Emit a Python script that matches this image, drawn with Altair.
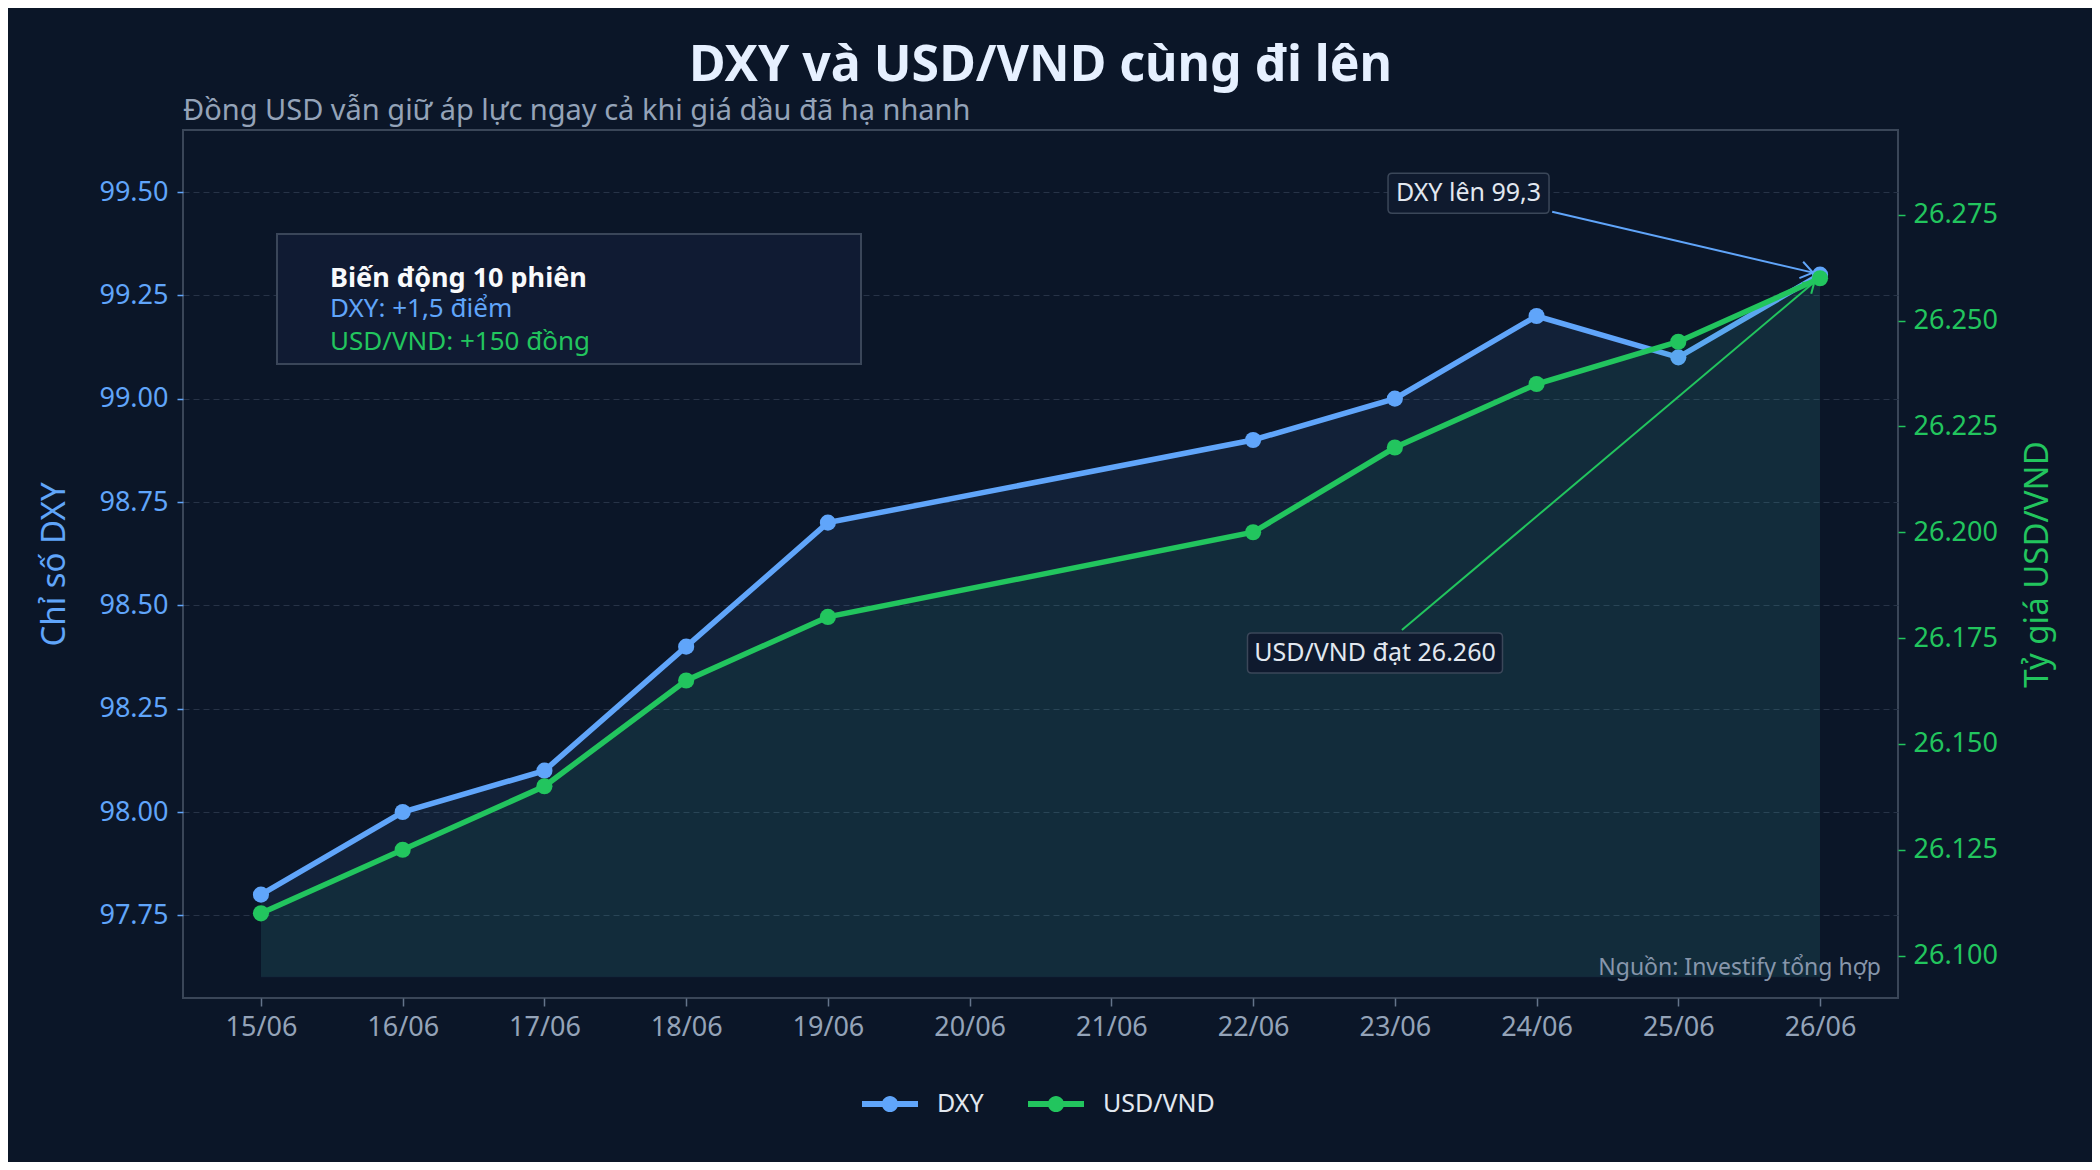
import json

import pandas as pd
import altair as alt

# Số liệu (10 phiên, không có 20/06 và 21/06)
ngay = ["15/06", "16/06", "17/06", "18/06", "19/06", "22/06", "23/06", "24/06", "25/06", "26/06"]
dxy = [97.80, 98.00, 98.10, 98.40, 98.70, 98.90, 99.00, 99.20, 99.10, 99.30]
usd_vnd = [26110, 26125, 26140, 26165, 26180, 26200, 26220, 26235, 26245, 26260]

nhan_truc_x = ["15/06", "16/06", "17/06", "18/06", "19/06", "20/06",
               "21/06", "22/06", "23/06", "24/06", "25/06", "26/06"]
moc_dxy = [97.75, 98.00, 98.25, 98.50, 98.75, 99.00, 99.25, 99.50]
moc_vnd = [26100, 26125, 26150, 26175, 26200, 26225, 26250, 26275]

ten_chuoi = ["DXY", "USD/VND"]
mau_chuoi = ["#60a5fa", "#22c55e"]

tieu_de = "DXY và USD/VND cùng đi lên"
phu_de = "Đồng USD vẫn giữ áp lực ngay cả khi giá dầu đã hạ nhanh"
nguon = "Nguồn: Investify tổng hợp"
hop_tom_tat = ["Biến động 10 phiên", "DXY: +1,5 điểm", "USD/VND: +150 đồng"]
chu_thich_dxy = "DXY lên 99,3"
chu_thich_vnd = "USD/VND đạt 26.260"

XANH = mau_chuoi[0]
LUC = mau_chuoi[1]
NEN = "#0b1628"
W, H = 1715, 868

# Bảng dữ liệu
df = pd.DataFrame({"ngay": ngay, "DXY": dxy, "USD/VND": usd_vnd})
df["so_ngay"] = df["ngay"].str[:2].astype(int)
dai = df.melt(id_vars=["ngay", "so_ngay"], value_vars=ten_chuoi,
              var_name="chuoi", value_name="gia_tri")
df_dxy = dai[dai["chuoi"] == "DXY"]
df_vnd = dai[dai["chuoi"] == "USD/VND"]


def hop_bo_goc(rong, cao, r=4):
    # khung chữ nhật bo góc, toạ độ đơn vị (nửa chiều rộng = 1)
    h = round(cao / rong, 4)
    k = round(2 * r / rong, 4)
    return (f"M{-1 + k},{-h} H{1 - k} Q1,{-h} 1,{-h + k} V{h - k} Q1,{h} {1 - k},{h} "
            f"H{-1 + k} Q-1,{h} -1,{h - k} V{-h + k} Q-1,{-h} {-1 + k},{-h} Z")


# Trục
nhan_theo_ngay = {str(int(s[:2])): s for s in nhan_truc_x}
truc_x = alt.X(
    "so_ngay:Q",
    scale=alt.Scale(domain=[14.45, 26.55], nice=False, zero=False),
    axis=alt.Axis(values=[int(s[:2]) for s in nhan_truc_x],
                  labelExpr=f"{json.dumps(nhan_theo_ngay)}[datum.value]",
                  title=None, grid=False, domain=False,
                  labelColor="#94a3b8", labelFontSize=27, labelPadding=8,
                  tickColor="#64748b", tickSize=8, tickWidth=1.5),
)
y_dxy = alt.Y(
    "gia_tri:Q",
    scale=alt.Scale(domain=[97.55, 99.65], nice=False, zero=False),
    axis=alt.Axis(orient="left", values=moc_dxy, format=".2f",
                  title="Chỉ số DXY", titleColor=XANH, titleFontSize=33,
                  titleFontWeight="normal", titleAngle=270, titleX=-129, titleY=H / 2,
                  titleBaseline="middle", titleAlign="center",
                  labelColor=XANH, labelFontSize=27, labelPadding=9,
                  tickColor=XANH, tickSize=6, tickWidth=1.5, domain=False,
                  grid=True, gridColor="#273347", gridDash=[6, 4], gridWidth=1),
)
y_vnd = alt.Y(
    "gia_tri:Q",
    scale=alt.Scale(domain=[26090, 26295], nice=False, zero=False),
    axis=alt.Axis(orient="right", values=moc_vnd,
                  labelExpr="replace(format(datum.value, ','), ',', '.')",
                  title="Tỷ giá USD/VND", titleColor=LUC, titleFontSize=33,
                  titleFontWeight="normal", titleAngle=270, titleX=139, titleY=H / 2,
                  titleBaseline="middle", titleAlign="center",
                  labelColor=LUC, labelFontSize=27, labelPadding=8,
                  tickColor=LUC, tickSize=7, tickWidth=1.5, domain=False, grid=False),
)

bieu_tuong = ("M-1,-0.107 H-0.25 V0.107 H-1 Z M0.25,-0.107 H1 V0.107 H0.25 Z "
              "M0.29,0 A0.29,0.29 0 1,1 -0.29,0 A0.29,0.29 0 1,1 0.29,0 Z")
mau = alt.Color(
    "chuoi:N", title=None,
    scale=alt.Scale(domain=ten_chuoi, range=mau_chuoi),
    legend=alt.Legend(orient="none", legendX=679, legendY=946, direction="horizontal",
                      symbolType=bieu_tuong, symbolSize=3136, symbolStrokeWidth=0,
                      labelFontSize=25, labelColor="#e2e8f0", labelOffset=19,
                      columnPadding=44, padding=0),
)

mui_ten = "M-1,-0.7 L0,0 L-1,0.7"

# Lớp DXY (trục trái)
nhan_dxy = pd.DataFrame({"so_ngay": [23.52], "gia_tri": [99.497], "noi_dung": [chu_thich_dxy]})
than_mui_dxy = pd.DataFrame({"so_ngay": [24.11], "gia_tri": [99.452],
                             "so_ngay2": [25.95], "gia_tri2": [99.305]})
dau_mui_dxy = pd.DataFrame({"so_ngay": [25.95], "gia_tri": [99.305]})

lop_dxy = alt.layer(
    alt.Chart(df_dxy).mark_area(color=XANH, opacity=0.08).encode(
        x=truc_x, y=y_dxy, y2=alt.datum(97.6)),
    alt.Chart(df_dxy).mark_line(color=XANH, strokeWidth=5.5).encode(x=truc_x, y=y_dxy),
    alt.Chart(df_dxy).mark_circle(size=260, opacity=1).encode(x=truc_x, y=y_dxy, color=mau),
    alt.Chart(than_mui_dxy).mark_rule(color=XANH, strokeWidth=2).encode(
        x=truc_x, y=y_dxy, x2="so_ngay2:Q", y2="gia_tri2:Q"),
    alt.Chart(dau_mui_dxy).mark_point(shape=mui_ten, size=576, filled=False, color=XANH,
                                      strokeWidth=2, angle=13, opacity=1).encode(x=truc_x, y=y_dxy),
    alt.Chart(nhan_dxy).mark_point(shape=hop_bo_goc(161, 40), size=161 ** 2, filled=True,
                                   fill="#0f1a2e", stroke="#3b4759", strokeWidth=1.5,
                                   opacity=1).encode(x=truc_x, y=y_dxy),
    alt.Chart(nhan_dxy).mark_text(fontSize=25, color="#e2e8f0", align="center",
                                  baseline="middle").encode(x=truc_x, y=y_dxy, text="noi_dung:N"),
)

# Lớp USD/VND (trục phải)
nhan_vnd = pd.DataFrame({"so_ngay": [22.86], "gia_tri": [26171.5], "noi_dung": [chu_thich_vnd]})
than_mui_vnd = pd.DataFrame({"so_ngay": [23.05], "gia_tri": [26176.9],
                             "so_ngay2": [25.96], "gia_tri2": [26259.1]})
dau_mui_vnd = pd.DataFrame({"so_ngay": [25.96], "gia_tri": [26259.1]})

lop_vnd = alt.layer(
    alt.Chart(df_vnd).mark_area(color=LUC, opacity=0.07).encode(
        x=truc_x, y=y_vnd, y2=alt.datum(26095)),
    alt.Chart(df_vnd).mark_line(color=LUC, strokeWidth=5.5).encode(x=truc_x, y=y_vnd),
    alt.Chart(df_vnd).mark_circle(size=260, opacity=1).encode(x=truc_x, y=y_vnd, color=mau),
    alt.Chart(than_mui_vnd).mark_rule(color=LUC, strokeWidth=2).encode(
        x=truc_x, y=y_vnd, x2="so_ngay2:Q", y2="gia_tri2:Q"),
    alt.Chart(dau_mui_vnd).mark_point(shape=mui_ten, size=400, filled=False, color=LUC,
                                      strokeWidth=2, angle=320, opacity=1).encode(x=truc_x, y=y_vnd),
    alt.Chart(nhan_vnd).mark_point(shape=hop_bo_goc(255, 40), size=255 ** 2, filled=True,
                                   fill="#0f1a2e", stroke="#3b4759", strokeWidth=1.5,
                                   opacity=1).encode(x=truc_x, y=y_vnd),
    alt.Chart(nhan_vnd).mark_text(fontSize=25, color="#e2e8f0", align="center",
                                  baseline="middle").encode(x=truc_x, y=y_vnd, text="noi_dung:N"),
)


def chu(noi_dung, x, y, **kieu):
    return alt.Chart(pd.DataFrame({"noi_dung": [noi_dung]})).mark_text(
        baseline="alphabetic", **kieu).encode(x=alt.value(x), y=alt.value(y), text="noi_dung:N")


# Lớp phụ: hộp tóm tắt, phụ đề, nguồn
lop_phu = alt.layer(
    alt.Chart(pd.DataFrame({"a": [0]})).mark_rect(fill="#101b33", stroke="#3a4659", strokeWidth=2).encode(
        x=alt.value(94), x2=alt.value(678), y=alt.value(104), y2=alt.value(234)),
    chu(hop_tom_tat[0], 147, 157, align="left", fontSize=27, fontWeight="bold", color="#f8fafc"),
    chu(hop_tom_tat[1], 147, 187, align="left", fontSize=26, color=XANH),
    chu(hop_tom_tat[2], 147, 220, align="left", fontSize=26, color=LUC),
    chu(phu_de, 0, -10, align="left", fontSize=29, color="#94a3b8"),
    chu(nguon, W - 17, 845, align="right", fontSize=23, color="#8796ab"),
)

bieu_do = alt.layer(lop_dxy, lop_vnd, lop_phu).resolve_scale(y="independent").properties(
    width=W,
    height=H,
    autosize="none",
    padding={"left": 175, "top": 122, "right": 194, "bottom": 164},
    background=NEN,
    title=alt.TitleParams(text=tieu_de, anchor="middle", frame="group", fontSize=50,
                          fontWeight="bold", color="#e6f0ff", baseline="alphabetic",
                          offset=0, dy=34),
).configure(
    font="Noto Sans",
    view=alt.ViewConfig(stroke="#3a4658", strokeWidth=2),
)

bieu_do.save("out.html", embed_options={"renderer": "svg", "actions": False})
